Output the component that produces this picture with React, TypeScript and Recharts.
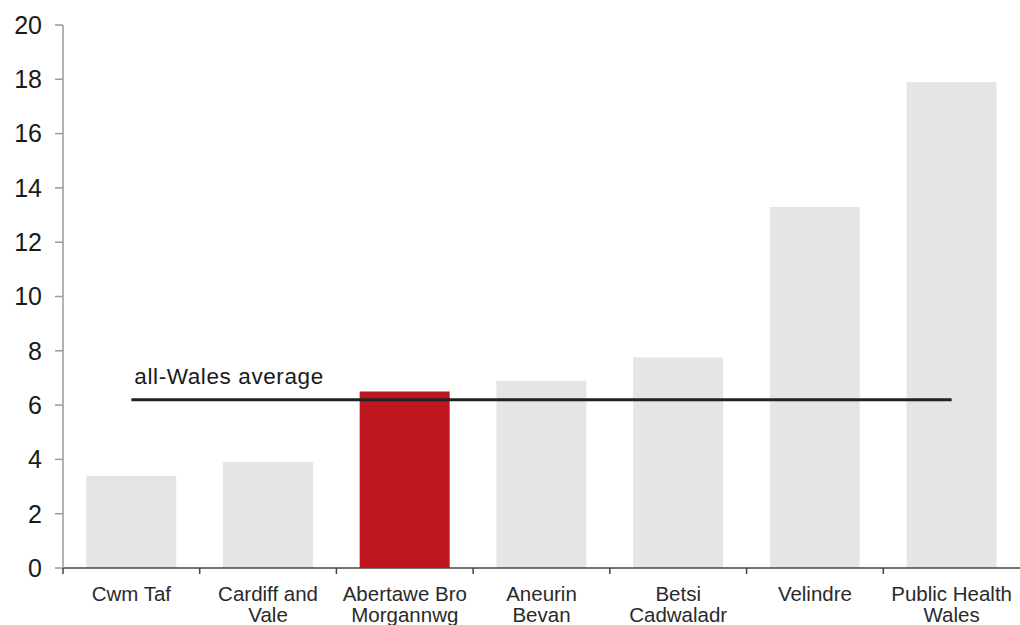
import React from 'react';
import { BarChart, Bar, XAxis, YAxis, Cell, ReferenceLine } from 'recharts';

const categories = [
  'Cwm Taf',
  'Cardiff and Vale',
  'Abertawe Bro Morgannwg',
  'Aneurin Bevan',
  'Betsi Cadwaladr',
  'Velindre',
  'Public Health Wales',
];
const tickLines = [
  ['Cwm Taf'],
  ['Cardiff and', 'Vale'],
  ['Abertawe Bro', 'Morgannwg'],
  ['Aneurin', 'Bevan'],
  ['Betsi', 'Cadwaladr'],
  ['Velindre'],
  ['Public Health', 'Wales'],
];
const values = [3.4, 3.9, 6.5, 6.9, 7.75, 13.3, 17.9];
const highlight = 'Abertawe Bro Morgannwg';
const walesAverage = 6.2;
const yTicks = [0, 2, 4, 6, 8, 10, 12, 14, 16, 18, 20];

const WIDTH = 1020;
const HEIGHT = 625;
const Y_AXIS_W = 63;
const BAND = (WIDTH - Y_AXIS_W) / categories.length;
const FONT = '"Liberation Sans", Arial, sans-serif';

const data = categories.map((name, i) => ({ name, value: values[i] }));

function CategoryTick(props: any) {
  const { x, y, payload, index } = props;
  const lines = tickLines[index] || [payload.value];
  const left = x - BAND / 2;
  return (
    <g>
      <line x1={left} y1={y} x2={left} y2={y + 6} stroke="#444" strokeWidth={1.5} />
      <text textAnchor="middle" fontFamily={FONT} fontSize={20.5} fill="#2a2a2a">
        {lines.map((l: string, i: number) => (
          <tspan key={i} x={x} y={y + 33 + i * 21}>
            {l}
          </tspan>
        ))}
      </text>
    </g>
  );
}

function AverageLabel(props: any) {
  const vb = props.viewBox || {};
  return (
    <text
      x={(vb.x ?? 0) + 3}
      y={(vb.y ?? 0) - 16}
      fontFamily={FONT}
      fontSize={22.5}
      letterSpacing={0.6}
      fill="#1a1a1a"
    >
      all-Wales average
    </text>
  );
}

export default function App() {
  return (
    <div style={{ position: 'absolute', left: 0, top: 0, width: WIDTH, height: HEIGHT, background: '#fff' }}>
      <BarChart
        width={WIDTH}
        height={HEIGHT}
        data={data}
        margin={{ top: 25, right: 0, bottom: 0, left: 0 }}
        barCategoryGap="17%"
      >
        <XAxis
          dataKey="name"
          interval={0}
          height={57}
          tickSize={0}
          tickMargin={0}
          tickLine={false}
          axisLine={{ stroke: '#444', strokeWidth: 1.5 }}
          tick={<CategoryTick />}
        />
        <YAxis
          width={Y_AXIS_W}
          domain={[0, 20]}
          ticks={yTicks}
          interval={0}
          tickSize={8}
          tickMargin={13}
          axisLine={{ stroke: '#9a9a9a', strokeWidth: 1.5 }}
          tickLine={{ stroke: '#9a9a9a', strokeWidth: 1.5 }}
          tick={{ fontFamily: FONT, fontSize: 25, fill: '#1a1a1a' }}
        />
        <Bar dataKey="value" isAnimationActive={false}>
          {data.map((d, i) => (
            <Cell key={i} fill={d.name === highlight ? '#be161e' : '#e4e5e6'} />
          ))}
        </Bar>
        <ReferenceLine
          segment={[
            { x: categories[0], y: walesAverage },
            { x: categories[categories.length - 1], y: walesAverage },
          ]}
          stroke="#222"
          strokeWidth={3}
          label={<AverageLabel />}
        />
      </BarChart>
    </div>
  );
}
